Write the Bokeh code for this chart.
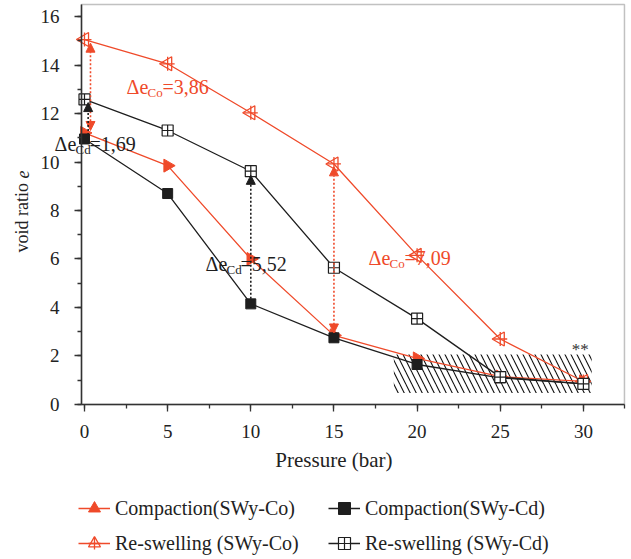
import math
from bokeh.plotting import figure
from bokeh.models import (Range1d, Label, Arrow, NormalHead, Legend, LegendItem,
                          FixedTicker, BoxAnnotation)
from bokeh.embed import file_html
from bokeh.resources import INLINE

# ---- data ----
pressure = [0, 5, 10, 15, 20, 25, 30]
comp_co = [11.2, 9.85, 6.0, 2.85, 1.9, 1.15, 0.95]
comp_cd = [10.95, 8.7, 4.15, 2.75, 1.65, 1.1, 0.85]
resw_co = [15.05, 14.05, 12.03, 9.92, 6.15, 2.7, 0.95]
resw_cd = [12.58, 11.3, 9.62, 5.64, 3.54, 1.13, 0.85]

x_ticks = [0, 5, 10, 15, 20, 25, 30]
y_ticks = [0, 2, 4, 6, 8, 10, 12, 14, 16]

names = ["Compaction(SWy-Co)", "Re-swelling (SWy-Co)",
         "Compaction(SWy-Cd)", "Re-swelling (SWy-Cd)"]

RED = "#ef4a2a"
BLACK = "#1e1e1e"
# delta annotations: (subscript, value text, x, y, colour)
deltas = [
    ("Co", "=3,86", 2.53, 13.1, RED),
    ("Cd", "=1,69", -1.8, 10.76, BLACK),
    ("Cd", "=5,52", 7.28, 5.81, BLACK),
    ("Co", "=7,09", 17.08, 6.06, RED),
]
# dotted arrows: x, y_start, y_end, colour, double-headed
arrows = [
    (0.36, 14.9, 11.3, RED, True),
    (0.22, 10.95, 12.45, BLACK, False),
    (10.0, 4.2, 9.45, BLACK, False),
    (15.0, 9.8, 2.95, RED, True),
]
hatch_x = [18.6, 30.5]
hatch_y = [0.47, 2.06]
star_pos = (29.3, 2.25)

# axis extents (data units) and title positions
x_axis_span = (-0.18, 32.47)
y_axis_span = (0, 16.5)
xlabel_pos = (15, -2.27)
ylabel_pos = (-3.73, 9.13)

FONT = "Liberation Serif"
AX = "#333333"

p = figure(width=631, height=559, output_backend="svg", toolbar_location=None,
           x_range=Range1d(-5.051, 32.893), y_range=Range1d(-6.392, 16.66),
           min_border_left=0, min_border_right=0, min_border_top=0,
           min_border_bottom=0)
p.grid.visible = False
p.outline_line_color = None
p.background_fill_color = "white"

for ax in (p.xaxis[0], p.yaxis[0]):
    ax.axis_line_width = 1.5
    ax.axis_line_color = AX
    ax.major_tick_line_color = AX
    ax.minor_tick_line_color = AX
    ax.major_tick_line_width = 1.3
    ax.minor_tick_line_width = 1.3
    ax.major_tick_in = 0
    ax.minor_tick_in = 0
    ax.major_label_text_font = FONT
    ax.major_label_text_font_size = "19px"
    ax.major_label_text_color = "#222222"

p.xaxis.ticker = FixedTicker(ticks=x_ticks, minor_ticks=[v / 2 for v in range(0, 66, 5)])
p.yaxis.ticker = FixedTicker(ticks=y_ticks, minor_ticks=list(range(0, 17)))
p.xaxis.fixed_location = y_axis_span[0]
p.yaxis.fixed_location = x_axis_span[0]
p.xaxis.bounds = x_axis_span
p.yaxis.bounds = y_axis_span
p.xaxis.major_tick_out = 7
p.xaxis.minor_tick_out = 4
p.yaxis.major_tick_out = 7
p.yaxis.minor_tick_out = 4
p.xaxis.major_label_standoff = 14
p.yaxis.major_label_standoff = 15

# top and right border of the plotting area
p.add_layout(BoxAnnotation(left=x_axis_span[0], right=x_axis_span[1],
                           bottom=y_axis_span[0], top=y_axis_span[1],
                           fill_alpha=0, line_color=AX, line_width=1.5))

# hatched zone
p.quad(left=hatch_x[0], right=hatch_x[1], bottom=hatch_y[0], top=hatch_y[1],
       fill_alpha=0, line_alpha=0, hatch_pattern="\\", hatch_color="#111111",
       hatch_scale=12, hatch_weight=1.1)

# series
l_cco = p.line(pressure, comp_co, color=RED, line_width=1.3)
m_cco = p.scatter(pressure, comp_co, marker="triangle", angle=-math.pi / 2,
                  size=13, fill_color=RED, line_color=RED)
l_ccd = p.line(pressure, comp_cd, color=BLACK, line_width=1.3)
m_ccd = p.scatter(pressure, comp_cd, marker="square", size=10,
                  fill_color=BLACK, line_color=BLACK)
l_rco = p.line(pressure, resw_co, color=RED, line_width=1.3)
m_rco = p.scatter(pressure, resw_co, marker="triangle", angle=math.pi / 2,
                  size=14, fill_color=None, line_color=RED, line_width=1.3)
m_rco2 = p.scatter(pressure, resw_co, marker="cross", size=14,
                   line_color=RED, line_width=1.3)
l_rcd = p.line(pressure, resw_cd, color=BLACK, line_width=1.3)
m_rcd = p.scatter(pressure, resw_cd, marker="square_cross", size=11,
                  fill_color="white", line_color=BLACK, line_width=1.2)

# arrows
for (ax_, y0, y1, col, both) in arrows:
    end = NormalHead(size=9, fill_color=col, line_color=col)
    start = NormalHead(size=9, fill_color=col, line_color=col) if both else None
    p.add_layout(Arrow(x_start=ax_, y_start=y0, x_end=ax_, y_end=y1,
                       line_color=col, line_dash="2 2", line_width=1.6,
                       end=end, start=start))

# delta labels
for (sub, val, x, y, col) in deltas:
    p.add_layout(Label(x=x, y=y, text="Δe", text_font=FONT, text_font_size="20px",
                       text_color=col, text_baseline="alphabetic"))
    p.add_layout(Label(x=x, y=y, x_offset=21, y_offset=-6, text=sub, text_font=FONT,
                       text_font_size="13px", text_color=col,
                       text_baseline="alphabetic"))
    p.add_layout(Label(x=x, y=y, x_offset=21 + (15 if sub == "Co" else 14),
                       text=val, text_font=FONT, text_font_size="20px",
                       text_color=col, text_baseline="alphabetic"))

p.add_layout(Label(x=star_pos[0], y=star_pos[1], text="**", text_font=FONT,
                   text_font_size="17px", text_color=AX, text_baseline="middle"))

# axis titles
p.add_layout(Label(x=xlabel_pos[0], y=xlabel_pos[1], text="Pressure (bar)",
                   text_font=FONT, text_font_size="21px", text_color="#222222",
                   text_align="center", text_baseline="middle"))
p.add_layout(Label(x=ylabel_pos[0], y=ylabel_pos[1], text="void ratio",
                   angle=math.pi / 2, text_font=FONT, text_font_size="18px",
                   text_color="#222222", text_align="right", text_baseline="middle"))
p.add_layout(Label(x=ylabel_pos[0], y=ylabel_pos[1] + 0.19, text="e",
                   angle=math.pi / 2, text_font=FONT, text_font_size="18px",
                   text_font_style="italic", text_color="#222222",
                   text_align="left", text_baseline="middle"))

legend = Legend(items=[
    LegendItem(label=names[0], renderers=[l_cco, m_cco]),
    LegendItem(label=names[1], renderers=[l_rco, m_rco, m_rco2]),
    LegendItem(label=names[2], renderers=[l_ccd, m_ccd]),
    LegendItem(label=names[3], renderers=[l_rcd, m_rcd]),
], ncols=2, location=(78, 1), glyph_width=32, glyph_height=30,
    label_width=208, label_standoff=5, spacing=5, padding=0, margin=0,
    border_line_color=None, background_fill_alpha=0,
    label_text_font=FONT, label_text_font_size="20px", label_text_color="#222222")
p.add_layout(legend)

open("out.html", "w").write(file_html(p, INLINE))
